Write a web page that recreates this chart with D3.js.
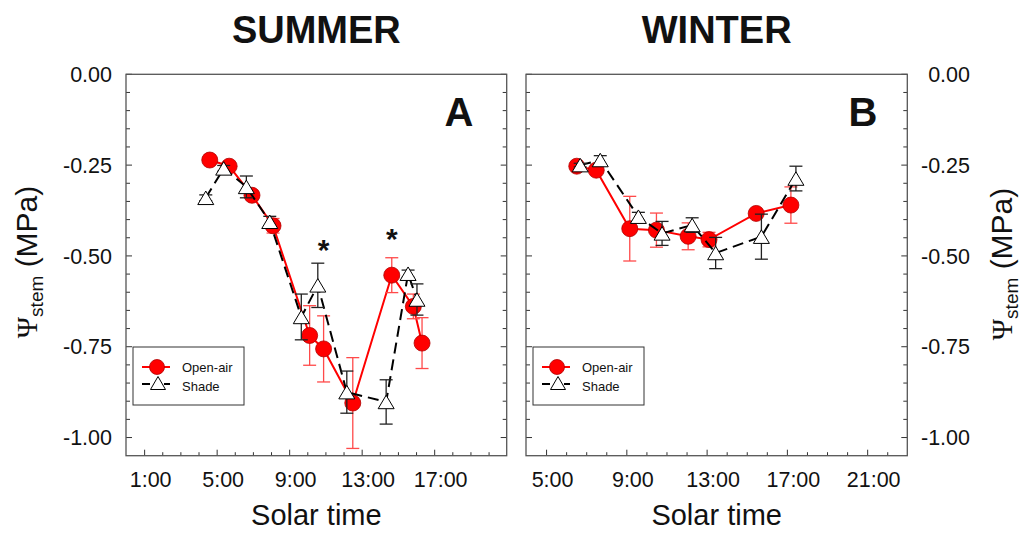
<!DOCTYPE html>
<html>
<head>
<meta charset="utf-8">
<script src="https://cdn.jsdelivr.net/npm/d3@7"></script>
<style>
  body { margin: 0; background: #fff; }
  svg { display: block; }
  text { font-family: "Liberation Sans", Arial, sans-serif; fill: #111; }
</style>
</head>
<body>
<svg width="1021" height="533" viewBox="0 0 1021 533"></svg>
<script>
// ---- data (hours of solar time, MPa) ----
// summer, panel A
var sumOpenHour  = [4.62, 5.69, 6.95, 8.11, 10.13, 10.9, 12.51, 14.66, 15.85, 16.33];
var sumOpenPsi   = [-0.236, -0.253, -0.333, -0.417, -0.719, -0.756, -0.905, -0.553, -0.639, -0.740];
var sumOpenErr   = [0.005, 0.008, 0.012, 0.02, 0.082, 0.091, 0.125, 0.048, 0.034, 0.07];
var sumShadeHour = [4.4, 5.39, 6.64, 7.93, 9.67, 10.58, 12.18, 14.35, 15.56, 16.05];
var sumShadePsi  = [-0.340, -0.259, -0.310, -0.406, -0.668, -0.581, -0.875, -0.902, -0.549, -0.620];
var sumShadeErr  = [0.008, 0.008, 0.03, 0.015, 0.063, 0.061, 0.058, 0.061, 0.01, 0.043];
var sumStarHour  = [10.9, 14.66];
var sumStarPsi   = [-0.465, -0.435];

// winter, panel B
var winOpenHour  = [6.53, 7.5, 9.17, 10.5, 12.08, 13.12, 15.47, 17.2];
var winOpenPsi   = [-0.253, -0.264, -0.425, -0.429, -0.446, -0.455, -0.383, -0.360];
var winOpenErr   = [0.005, 0.008, 0.089, 0.047, 0.037, 0.02, 0.01, 0.05];
var winShadeHour = [6.7, 7.7, 9.6, 10.78, 12.28, 13.45, 15.73, 17.45];
var winShadePsi  = [-0.250, -0.236, -0.392, -0.438, -0.415, -0.492, -0.447, -0.287];
var winShadeErr  = [0.005, 0.012, 0.012, 0.033, 0.02, 0.043, 0.062, 0.034];

// tick labels
var sumHourTicks = [1, 5, 9, 13, 17];
var winHourTicks = [5, 9, 13, 17, 21];
var psiTicks = [0, -0.25, -0.5, -0.75, -1.0];
var psiTickLabels = ["0.00", "-0.25", "-0.50", "-0.75", "-1.00"];
var seriesNames = ["Open-air", "Shade"];

var svg = d3.select("svg");

var Y_TOP = 74.3, Y_BOT = 455.7;
var y = d3.scaleLinear().domain([0, -1.05]).range([Y_TOP, Y_BOT]);
var psiMinor = d3.range(0, 21).map(function(i) { return -i * 0.05; })
  .filter(function(v) { return Math.abs((v * 4) - Math.round(v * 4)) > 1e-6; });

function zip(h, v, e) {
  return h.map(function(d, i) { return {h: d, v: v[i], e: e ? e[i] : 0}; });
}

function trianglePath(cx, cy, w, hgt) {
  return "M" + cx + "," + (cy - hgt / 2) + "L" + (cx + w / 2) + "," + (cy + hgt / 2) +
    "L" + (cx - w / 2) + "," + (cy + hgt / 2) + "Z";
}

function drawPanel(p) {
  var g = svg.append("g");
  var x = d3.scaleLinear().domain(p.xDomain).range(p.xRange);
  var left = p.xRange[0], right = p.xRange[1];

  // hour minor ticks
  var minorX = d3.range(p.xDomain[0] + 1, p.xDomain[1])
    .filter(function(h) { return p.hourTicks.indexOf(h) < 0; });
  g.append("g").attr("transform", "translate(0," + Y_BOT + ")")
    .attr("color", "#333")
    .call(d3.axisBottom(x).tickValues(minorX).tickSize(-3.5).tickFormat(""))
    .call(function(a) { a.select(".domain").remove(); });

  var xa = g.append("g").attr("transform", "translate(0," + Y_BOT + ")")
    .attr("color", "#333")
    .call(d3.axisBottom(x).tickValues(p.hourTicks).tickSize(-6).tickPadding(16)
      .tickFormat(function(h) { return h + ":00"; }));
  xa.select(".domain").remove();
  xa.selectAll("text").attr("dx", 6).style("font-size", "21.5px")
    .style("font-family", "'Liberation Sans', Arial, sans-serif").attr("fill", "#111");

  // psi ticks on both sides, inward
  [[left, 1], [right, -1]].forEach(function(s) {
    var gx = g.append("g");
    psiMinor.forEach(function(v) {
      gx.append("line").attr("x1", s[0]).attr("x2", s[0] + s[1] * 4)
        .attr("y1", y(v)).attr("y2", y(v)).attr("stroke", "#333");
    });
    psiTicks.forEach(function(v) {
      gx.append("line").attr("x1", s[0]).attr("x2", s[0] + s[1] * 6)
        .attr("y1", y(v)).attr("y2", y(v)).attr("stroke", "#333");
    });
  });

  // psi labels
  g.selectAll(".psilab").data(psiTicks).enter().append("text")
    .attr("x", p.psiLabelX).attr("y", function(v) { return y(v); })
    .attr("dy", "0.36em").attr("text-anchor", "end")
    .style("font-size", "21.5px")
    .text(function(v, i) { return psiTickLabels[i]; });

  // frame
  g.append("rect").attr("x", left).attr("y", Y_TOP)
    .attr("width", right - left).attr("height", Y_BOT - Y_TOP)
    .attr("fill", "none").attr("stroke", "#555").attr("stroke-width", 1.3);

  var line = d3.line().x(function(d) { return x(d.h); }).y(function(d) { return y(d.v); });

  // open-air series
  g.append("path").datum(p.open).attr("d", line)
    .attr("fill", "none").attr("stroke", "#f00").attr("stroke-width", 2);
  drawErr(g, p.open, x, "#ff4a4a");
  g.selectAll(".oa").data(p.open).enter().append("circle")
    .attr("cx", function(d) { return x(d.h); }).attr("cy", function(d) { return y(d.v); })
    .attr("r", 8).attr("fill", "#f00").attr("stroke", "#b00000").attr("stroke-width", 0.8);

  // shade series
  g.append("path").datum(p.shade).attr("d", line)
    .attr("fill", "none").attr("stroke", "#000").attr("stroke-width", 2)
    .attr("stroke-dasharray", "11,6");
  drawErr(g, p.shade, x, "#222");
  g.selectAll(".sh").data(p.shade).enter().append("path")
    .attr("d", function(d) { return trianglePath(x(d.h), y(d.v), 16, 13.5); })
    .attr("fill", "#fff").attr("stroke", "#000").attr("stroke-width", 1);

  // significance marks
  if (p.stars) {
    g.selectAll(".star").data(p.stars).enter().append("text")
      .attr("x", function(d) { return x(d.h); }).attr("y", function(d) { return y(d.v) + 17; })
      .attr("text-anchor", "middle").style("font-size", "30px").style("font-weight", "bold")
      .text("*");
  }

  // panel letter
  g.append("text").attr("x", p.letterX).attr("y", 126).attr("text-anchor", "middle")
    .style("font-size", "40px").style("font-weight", "bold").text(p.letter);

  // season title
  g.append("text").attr("x", (left + right) / 2).attr("y", 43).attr("text-anchor", "middle")
    .style("font-size", "38px").style("font-weight", "900").text(p.title);

  // x title
  g.append("text").attr("x", (left + right) / 2).attr("y", 525).attr("text-anchor", "middle")
    .style("font-size", "29px").text("Solar time");

  // legend
  var lx = left + 7, ly = 347;
  var lg = g.append("g");
  lg.append("rect").attr("x", lx).attr("y", ly).attr("width", 111).attr("height", 58)
    .attr("fill", "#fff").attr("stroke", "#333").attr("stroke-width", 1);
  lg.append("line").attr("x1", lx + 9).attr("x2", lx + 37).attr("y1", ly + 20).attr("y2", ly + 20)
    .attr("stroke", "#f00").attr("stroke-width", 2);
  lg.append("circle").attr("cx", lx + 24).attr("cy", ly + 20).attr("r", 7.5)
    .attr("fill", "#f00").attr("stroke", "#b00000").attr("stroke-width", 0.8);
  lg.append("line").attr("x1", lx + 9).attr("x2", lx + 42).attr("y1", ly + 37).attr("y2", ly + 37)
    .attr("stroke", "#000").attr("stroke-width", 2).attr("stroke-dasharray", "8,14,6");
  lg.append("path").attr("d", trianglePath(lx + 25, ly + 36, 15, 13))
    .attr("fill", "#fff").attr("stroke", "#000").attr("stroke-width", 1);
  lg.selectAll(".lt").data(seriesNames).enter().append("text")
    .attr("x", lx + 49).attr("y", function(d, i) { return ly + 25 + i * 19; })
    .style("font-size", "13px").text(function(d) { return d; });
}

function drawErr(g, data, x, color) {
  var eg = g.append("g").attr("stroke", color).attr("stroke-width", 1.3);
  data.forEach(function(d) {
    var cx = x(d.h), y1 = y(d.v - d.e), y2 = y(d.v + d.e);
    eg.append("line").attr("x1", cx).attr("x2", cx).attr("y1", y1).attr("y2", y2);
    eg.append("line").attr("x1", cx - 6.5).attr("x2", cx + 6.5).attr("y1", y1).attr("y2", y1);
    eg.append("line").attr("x1", cx - 6.5).attr("x2", cx + 6.5).attr("y1", y2).attr("y2", y2);
  });
}

drawPanel({
  title: "SUMMER", letter: "A", letterX: 459,
  xDomain: [0, 21], xRange: [126, 506.7], hourTicks: sumHourTicks, psiLabelX: 112,
  open: zip(sumOpenHour, sumOpenPsi, sumOpenErr),
  shade: zip(sumShadeHour, sumShadePsi, sumShadeErr),
  stars: zip(sumStarHour, sumStarPsi)
});
drawPanel({
  title: "WINTER", letter: "B", letterX: 863,
  xDomain: [4, 23], xRange: [526, 907.3], hourTicks: winHourTicks, psiLabelX: 970,
  open: zip(winOpenHour, winOpenPsi, winOpenErr),
  shade: zip(winShadeHour, winShadePsi, winShadeErr)
});

// y titles, both sides
[[37, 262], [1012, 264]].forEach(function(pos) {
  var t = svg.append("text")
    .attr("transform", "translate(" + pos[0] + "," + pos[1] + ") rotate(-90)")
    .attr("text-anchor", "middle").style("font-size", "30px");
  t.append("tspan").style("font-family", "'Liberation Serif', 'DejaVu Serif', serif")
    .style("font-size", "29px").text("\u03A8");
  t.append("tspan").attr("dy", 6).style("font-size", "19px").text("stem");
  t.append("tspan").attr("dy", -6).text(" (MPa)");
});
</script>
</body>
</html>
